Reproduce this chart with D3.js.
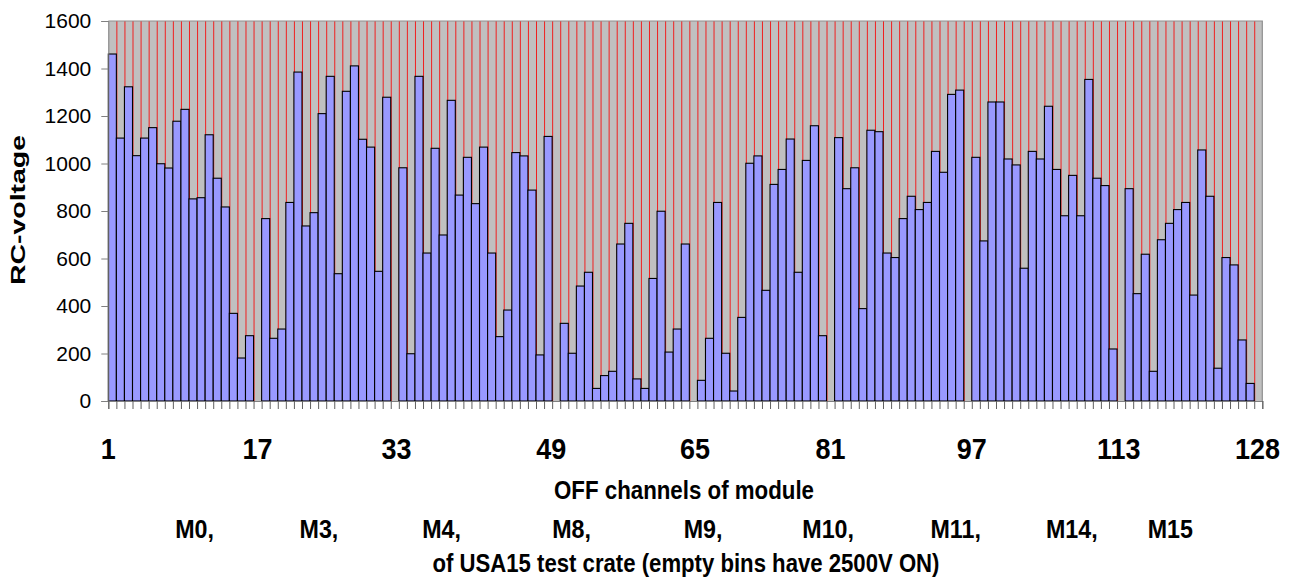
<!DOCTYPE html>
<html><head><meta charset="utf-8">
<script src="https://cdn.jsdelivr.net/npm/d3@7"></script>
<style>
html,body{margin:0;padding:0;background:#fff;}
svg{display:block;font-family:"Liberation Sans",Arial,sans-serif;}
</style></head>
<body><svg id="c" width="1296" height="581"></svg>
<script>
// RC-voltage of each OFF channel (bins with 0 are empty: 2500V ON)
const values = [
1461,1107,1323,1033,1107,1151,999,981,1178,1228,851,856,1121,938,817,369,181,275,0,
768,264,303,836,1385,737,793,1210,1367,536,1304,1411,1102,1069,546,1279,0,
982,199,1367,623,1064,699,1266,867,1026,831,1069,623,271,383,1046,1032,888,194,1114,0,
327,201,484,542,53,107,125,661,748,93,53,516,799,206,303,661,0,
87,264,836,201,42,352,1001,1032,466,912,975,1103,542,1013,1159,275,0,
1109,894,982,389,1140,1134,623,604,768,862,806,836,1051,963,1291,1309,0,
1026,674,1259,1259,1019,994,559,1051,1019,1241,975,780,950,780,1354,938,907,219,0,
894,452,618,125,679,748,806,836,446,1057,862,138,604,573,257,74,0
];
const channels = values.map((v,i)=>i+1);
const yTicks = [0,200,400,600,800,1000,1200,1400,1600];
const xTickLabels = ["1","17","33","49","65","81","97","113","128"];
const xTickAt = [0,18.5,35.7,54.9,72.7,89.5,107.0,125.2,142.4]; // in bin units
const moduleLabels = ["M0,","M3,","M4,","M8,","M9,","M10,","M11,","M14,","M15"];
const moduleAt = [10.7,26.1,41.3,57.4,73.7,89.2,105.0,119.4,131.6]; // in bin units
const yTitle = "RC-voltage";
const xTitle1 = "OFF channels of module";
const xTitle2 = "of USA15 test crate (empty bins have 2500V ON)";

const svg = d3.select("#c");
const L=108.3, R=1262.3, T=21, B=401;
const x = d3.scaleBand().domain(channels).range([L,R]).padding(0);
const xl = d3.scaleLinear().domain([0,values.length]).range([L,R]);
const y = d3.scaleLinear().domain([0,1600]).range([B,T]);

// plot background
svg.append("rect").attr("x",L).attr("y",T).attr("width",R-L).attr("height",B-T).attr("fill","#c0c0c0");

// red vertical gridlines at bin boundaries
const grid = svg.append("g").attr("transform",`translate(0,${B})`)
  .call(d3.axisBottom(xl).tickValues(d3.range(1,values.length)).tickSize(-(B-T)).tickFormat(""));
grid.select(".domain").remove();
grid.selectAll("line").attr("stroke","#f02020").attr("stroke-width",1);

// bars
svg.append("g").selectAll("rect").data(values).join("rect")
  .attr("x",(d,i)=>x(channels[i]))
  .attr("width",x.bandwidth())
  .attr("y",d=>y(d))
  .attr("height",d=>B-y(d))
  .attr("fill","#9999ff")
  .attr("stroke","#000")
  .attr("stroke-width",1.1)
  .attr("display",d=>d>0?null:"none");

// border top/right
svg.append("path").attr("d",`M${L},${T}H${R}V${B}`).attr("fill","none").attr("stroke","#909090").attr("stroke-width",1.2);

// y axis
const ya = svg.append("g").attr("transform",`translate(${L},0)`)
  .call(d3.axisLeft(y).tickValues(yTicks).tickSize(7).tickPadding(10).tickFormat(d3.format("d")));
ya.select(".domain").attr("stroke","#808080");
ya.selectAll(".tick line").attr("stroke","#808080");
ya.selectAll("text").attr("font-size",21).attr("fill","#000").attr("font-family","Liberation Sans, Arial, sans-serif");

// x axis (bin boundary ticks)
const xa = svg.append("g").attr("transform",`translate(0,${B})`)
  .call(d3.axisBottom(xl).tickValues(d3.range(0,values.length+1)).tickSize(8).tickFormat(""));
xa.select(".domain").attr("stroke","#808080").attr("stroke-width",1.2);
xa.selectAll(".tick line").attr("stroke","#606060");

// x tick labels
svg.append("g").selectAll("text").data(xTickLabels).join("text")
  .attr("x",(d,i)=>xl(xTickAt[i])).attr("y",459)
  .attr("text-anchor","middle").attr("font-size",29).attr("font-weight","bold")
  .text(d=>d)
  .each(function(){ const w=this.getComputedTextLength(); d3.select(this).attr("textLength",w*0.93).attr("lengthAdjust","spacingAndGlyphs"); });

// y title
svg.append("text").attr("transform","translate(25,210) rotate(-90)")
  .attr("text-anchor","middle").attr("font-size",21).attr("font-weight","bold")
  .attr("textLength",150).attr("lengthAdjust","spacingAndGlyphs").text(yTitle);

// x titles
svg.append("text").attr("x",684).attr("y",499).attr("text-anchor","middle")
  .attr("font-size",25).attr("font-weight","bold")
  .attr("textLength",260).attr("lengthAdjust","spacingAndGlyphs").text(xTitle1);
svg.append("g").selectAll("text").data(moduleLabels).join("text")
  .attr("x",(d,i)=>xl(moduleAt[i])).attr("y",538)
  .attr("text-anchor","middle").attr("font-size",25).attr("font-weight","bold")
  .text(d=>d)
  .each(function(){ const w=this.getComputedTextLength(); d3.select(this).attr("textLength",w*0.93).attr("lengthAdjust","spacingAndGlyphs"); });
svg.append("text").attr("x",686).attr("y",572).attr("text-anchor","middle")
  .attr("font-size",25).attr("font-weight","bold")
  .attr("textLength",507).attr("lengthAdjust","spacingAndGlyphs").text(xTitle2);
</script></body></html>
